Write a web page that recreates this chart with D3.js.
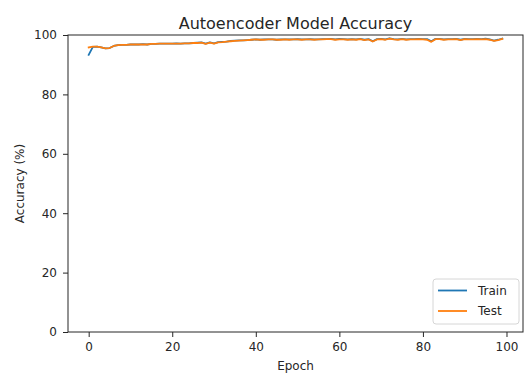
<!DOCTYPE html>
<html>
<head>
<meta charset="utf-8">
<script src="https://cdn.jsdelivr.net/npm/d3@7"></script>
<style>
  body { margin: 0; background: #fff; }
  svg { display: block; font-family: "DejaVu Sans", sans-serif; }
</style>
</head>
<body>
<div id="chart"></div>
<script>
// Values
const epochs = d3.range(0, 100);
const trainAcc = [
  93.3, 96.0, 96.1, 95.8, 95.5, 95.6, 96.3, 96.6, 96.7, 96.7,
  96.8, 96.8, 96.8, 96.9, 96.8, 97.0, 97.0, 97.1, 97.1, 97.1,
  97.1, 97.2, 97.1, 97.2, 97.2, 97.3, 97.4, 97.5, 97.1, 97.5,
  97.2, 97.6, 97.7, 97.8, 98.0, 98.1, 98.2, 98.2, 98.3, 98.4,
  98.5, 98.4, 98.5, 98.5, 98.5, 98.4, 98.5, 98.5, 98.5, 98.5,
  98.6, 98.5, 98.5, 98.6, 98.5, 98.5, 98.6, 98.6, 98.7, 98.5,
  98.7, 98.6, 98.5, 98.6, 98.5, 98.7, 98.4, 98.6, 97.9, 98.6,
  98.7, 98.5, 98.9, 98.6, 98.5, 98.7, 98.5, 98.6, 98.6, 98.7,
  98.6, 98.6, 97.9, 98.7, 98.7, 98.5, 98.6, 98.6, 98.7, 98.4,
  98.7, 98.6, 98.6, 98.7, 98.6, 98.8, 98.5, 98.1, 98.4, 98.8
];
const testAcc = [
  95.8, 96.1, 96.1, 95.8, 95.5, 95.6, 96.3, 96.6, 96.7, 96.7,
  96.8, 96.8, 96.8, 96.8, 96.8, 97.0, 97.0, 97.1, 97.1, 97.1,
  97.1, 97.1, 97.1, 97.2, 97.2, 97.3, 97.3, 97.4, 97.0, 97.4,
  97.1, 97.5, 97.6, 97.8, 97.9, 98.0, 98.1, 98.2, 98.3, 98.4,
  98.5, 98.4, 98.4, 98.5, 98.5, 98.4, 98.4, 98.5, 98.4, 98.5,
  98.5, 98.4, 98.5, 98.5, 98.4, 98.5, 98.5, 98.6, 98.6, 98.4,
  98.5, 98.5, 98.4, 98.5, 98.4, 98.6, 98.3, 98.5, 97.8, 98.5,
  98.6, 98.4, 98.8, 98.5, 98.4, 98.6, 98.4, 98.5, 98.5, 98.6,
  98.5, 98.4, 97.7, 98.6, 98.6, 98.4, 98.5, 98.5, 98.6, 98.3,
  98.6, 98.5, 98.5, 98.6, 98.5, 98.6, 98.4, 98.0, 98.3, 98.7
];
const xTicks = [0, 20, 40, 60, 80, 100];
const yTicks = [0, 20, 40, 60, 80, 100];
const seriesNames = ['Train', 'Test'];
const seriesColors = ['#1f77b4', '#ff7f0e'];

const W = 524, H = 374;
const margin = { top: 35, right: 1, bottom: 42, left: 68 };
const width = W - margin.left - margin.right;
const height = H - margin.top - margin.bottom;
const ink = '#262626';

const svg = d3.select('#chart').append('svg')
  .attr('width', W)
  .attr('height', H);

const g = svg.append('g')
  .attr('transform', `translate(${margin.left},${margin.top})`);

// matplotlib-like padding of 5% around data range
const xMin = d3.min(epochs), xMax = d3.max(epochs);
const pad = (xMax - xMin) * 0.05;
const x = d3.scaleLinear().domain([xMin - pad, xMax + pad]).range([0, width]);
const y = d3.scaleLinear().domain([0, 100]).range([height, 0]);

const xAxis = g.append('g')
  .attr('transform', `translate(0,${height})`)
  .call(d3.axisBottom(x).tickValues(xTicks).tickSize(5).tickPadding(5));
const yAxis = g.append('g')
  .call(d3.axisLeft(y).tickValues(yTicks).tickSize(5).tickPadding(6));

[xAxis, yAxis].forEach(a => {
  a.select('.domain').remove();
  a.selectAll('text').attr('font-size', 12).attr('fill', ink)
    .attr('font-family', '"DejaVu Sans", sans-serif');
  a.selectAll('line').attr('stroke', ink).attr('stroke-width', 1);
});

// lines
const line = d3.line().x((d, i) => x(epochs[i])).y(d => y(d));
[trainAcc, testAcc].forEach((data, k) => {
  g.append('path')
    .datum(data)
    .attr('fill', 'none')
    .attr('stroke', seriesColors[k])
    .attr('stroke-width', 1.8)
    .attr('stroke-linejoin', 'round')
    .attr('stroke-linecap', 'square')
    .attr('d', line);
});

// frame
g.append('rect')
  .attr('width', width).attr('height', height)
  .attr('fill', 'none').attr('stroke', ink).attr('stroke-width', 1);

// title and labels
svg.append('text')
  .attr('x', margin.left + width / 2).attr('y', 29)
  .attr('text-anchor', 'middle').attr('font-size', 16).attr('fill', ink)
  .text('Autoencoder Model Accuracy');
svg.append('text')
  .attr('x', margin.left + width / 2).attr('y', 370)
  .attr('text-anchor', 'middle').attr('font-size', 12).attr('fill', ink)
  .text('Epoch');
svg.append('text')
  .attr('transform', `translate(24,${margin.top + height / 2}) rotate(-90)`)
  .attr('text-anchor', 'middle').attr('font-size', 12).attr('fill', ink)
  .text('Accuracy (%)');

// legend
const lg = svg.append('g').attr('transform', 'translate(433,279)');
lg.append('rect')
  .attr('width', 86).attr('height', 45).attr('rx', 3)
  .attr('fill', '#fff').attr('fill-opacity', 0.8)
  .attr('stroke', '#d6d6d6').attr('stroke-width', 1);
seriesNames.forEach((name, i) => {
  const yy = 11.5 + i * 20.5;
  lg.append('line')
    .attr('x1', 5).attr('x2', 34).attr('y1', yy).attr('y2', yy)
    .attr('stroke', seriesColors[i]).attr('stroke-width', 1.8);
  lg.append('text')
    .attr('x', 45).attr('y', yy + 4.3)
    .attr('font-size', 12).attr('fill', ink)
    .text(name);
});
</script>
</body>
</html>
